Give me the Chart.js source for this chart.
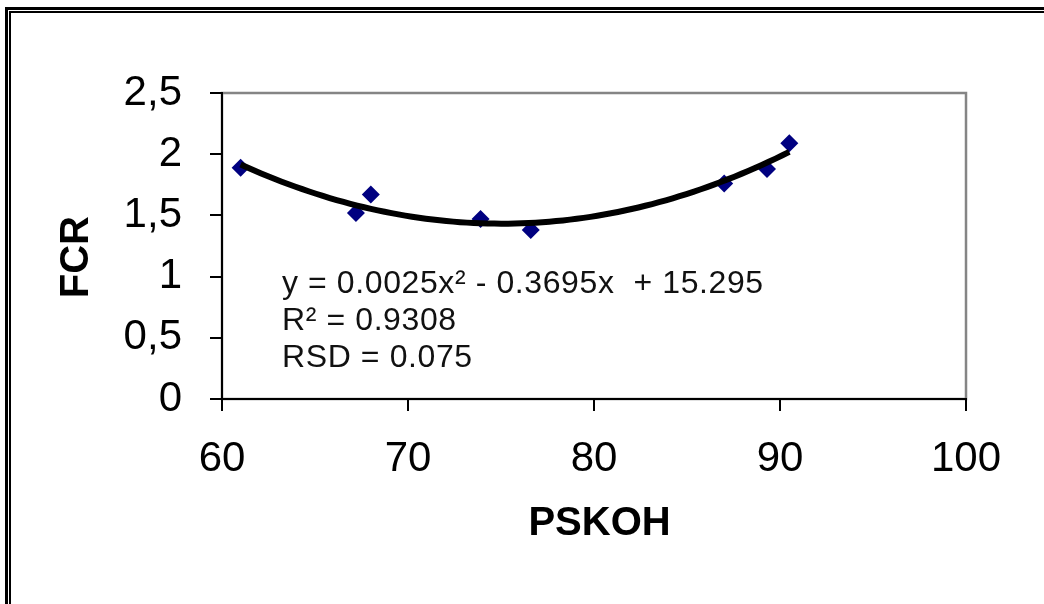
<!DOCTYPE html>
<html>
<head>
<meta charset="utf-8">
<title>FCR / PSKOH</title>
<script src="https://cdn.jsdelivr.net/npm/chart.js@4.4.1/dist/chart.umd.min.js"></script>
<style>
  html, body { margin: 0; padding: 0; background: #fff; }
  #wrap { position: relative; width: 1044px; height: 604px; overflow: hidden; }
  #chart { position: absolute; left: 0; top: 0; }
  .frame { position: absolute; right: -10px; bottom: -10px; border-style: solid; border-color: #000; }
  .outer { left: 5px; top: 7px; border-width: 3px 0 0 3px; }
  .inner { left: 9px; top: 11px; border-width: 2px 0 0 2px; }
</style>
</head>
<body>
<div id="wrap">
  <canvas id="chart" width="1044" height="604"></canvas>
  <div class="frame outer"></div>
  <div class="frame inner"></div>
</div>
<script>
const pskoh = [61.0, 67.2, 68.0, 73.9, 76.6, 87.0, 89.3, 90.5];
const fcr = [1.89, 1.52, 1.67, 1.47, 1.38, 1.76, 1.88, 2.09];
const xTickLabels = ['60', '70', '80', '90', '100'];
const yTickLabels = ['0', '0,5', '1', '1,5', '2', '2,5'];
const fitLines = ['y = 0.0025x\u00b2 - 0.3695x  + 15.295', 'R\u00b2 = 0.9308', 'RSD = 0.075'];

const FONT = '"Liberation Sans", Arial, Helvetica, sans-serif';

// least squares fit y = a + b x + c x^2
function quadFit(xs, ys) {
  const s = [0, 0, 0, 0, 0];
  const t = [0, 0, 0];
  for (let i = 0; i < xs.length; i++) {
    let p = 1;
    for (let k = 0; k < 5; k++) {
      s[k] += p;
      if (k < 3) t[k] += p * ys[i];
      p *= xs[i];
    }
  }
  const m = [
    [s[0], s[1], s[2], t[0]],
    [s[1], s[2], s[3], t[1]],
    [s[2], s[3], s[4], t[2]]
  ];
  for (let c = 0; c < 3; c++) {
    for (let r = c + 1; r < 3; r++) {
      const f = m[r][c] / m[c][c];
      for (let k = c; k < 4; k++) m[r][k] -= f * m[c][k];
    }
  }
  const coef = [0, 0, 0];
  for (let r = 2; r >= 0; r--) {
    let v = m[r][3];
    for (let k = r + 1; k < 3; k++) v -= m[r][k] * coef[k];
    coef[r] = v / m[r][r];
  }
  return coef;
}

const coef = quadFit(pskoh, fcr);
const xLo = Math.min(...pskoh), xHi = Math.max(...pskoh);
const trend = [];
for (let i = 0; i <= 80; i++) {
  const x = xLo + (xHi - xLo) * i / 80;
  trend.push({ x: x, y: coef[0] + coef[1] * x + coef[2] * x * x });
}
const points = pskoh.map((x, i) => ({ x: x, y: fcr[i] }));

// grey plot-area outline, drawn under the axes
const plotBox = {
  id: 'plotBox',
  beforeDraw(chart) {
    const { ctx, chartArea: a } = chart;
    ctx.save();
    ctx.strokeStyle = '#858585';
    ctx.lineWidth = 2.5;
    ctx.strokeRect(a.left, a.top, a.right - a.left, a.bottom - a.top);
    ctx.restore();
  }
};

// regression text block
const fitLabel = {
  id: 'fitLabel',
  afterDraw(chart) {
    const { ctx, chartArea: a } = chart;
    ctx.save();
    ctx.font = '32px ' + FONT;
    ctx.letterSpacing = '0.6px';
    ctx.fillStyle = '#111';
    ctx.textBaseline = 'alphabetic';
    fitLines.forEach((txt, i) => {
      ctx.fillText(txt, a.left + 60, a.top + 200 + i * 37);
    });
    ctx.restore();
  }
};

const tickFont = { family: FONT, size: 42 };
const titleFont = { family: FONT, size: 40, weight: 'bold' };

new Chart(document.getElementById('chart').getContext('2d'), {
  type: 'scatter',
  data: {
    datasets: [
      {
        label: 'Poly. (FCR)',
        data: trend,
        showLine: true,
        borderColor: '#000',
        borderWidth: 6,
        pointRadius: 0,
        tension: 0,
        order: 0
      },
      {
        label: 'FCR',
        data: points,
        pointStyle: 'rectRot',
        pointRadius: 9,
        backgroundColor: '#000080',
        borderColor: '#000080',
        borderWidth: 0,
        order: 1
      }
    ]
  },
  options: {
    responsive: false,
    animation: false,
    devicePixelRatio: 1,
    layout: { padding: { left: 0, top: 93, right: 78, bottom: 0 } },
    plugins: {
      legend: { display: false },
      tooltip: { enabled: false }
    },
    scales: {
      x: {
        type: 'linear',
        min: 60,
        max: 100,
        afterFit: s => { s.height = 205; },
        ticks: {
          stepSize: 10,
          padding: 23,
          color: '#000',
          font: tickFont,
          callback: v => xTickLabels[Math.round((v - 60) / 10)]
        },
        grid: { drawOnChartArea: false, tickLength: 12, color: '#000', lineWidth: 2 },
        border: { color: '#000', width: 2 },
        // leading space nudges the centred title a little to the right
        title: { display: true, text: ' PSKOH', color: '#000', font: titleFont, padding: { top: 0, bottom: 56 } }
      },
      y: {
        type: 'linear',
        min: 0,
        max: 2.5,
        afterFit: s => { s.width = 222; },
        ticks: {
          stepSize: 0.5,
          padding: 28,
          color: '#000',
          font: tickFont,
          callback: v => yTickLabels[Math.round(v / 0.5)]
        },
        grid: { drawOnChartArea: false, tickLength: 12, color: '#000', lineWidth: 2 },
        border: { color: '#000', width: 2 },
        // trailing spaces push the rotated title slightly lower
        title: { display: true, text: 'FCR  ', color: '#000', font: titleFont, padding: { top: 53, bottom: 0 } }
      }
    }
  },
  plugins: [plotBox, fitLabel]
});
</script>
</body>
</html>
